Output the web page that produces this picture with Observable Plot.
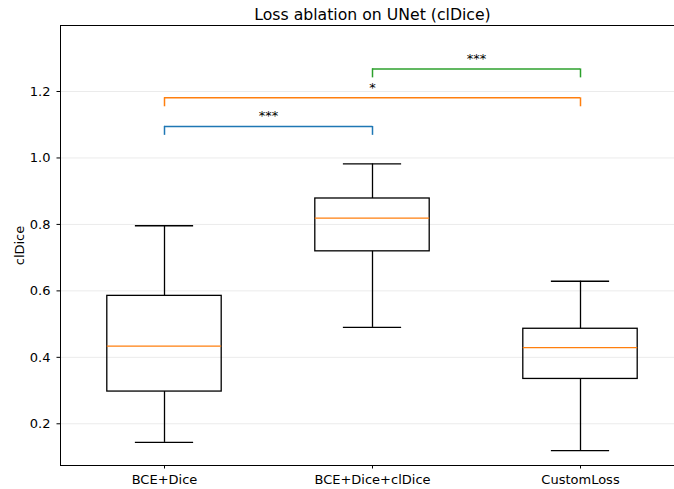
<!DOCTYPE html>
<html>
<head>
<meta charset="utf-8">
<script src="https://cdn.jsdelivr.net/npm/d3@7"></script>
<script src="https://cdn.jsdelivr.net/npm/@observablehq/plot@0.6"></script>
<style>
  html, body { margin: 0; padding: 0; background: #fff; }
  #chart svg { display: block; overflow: hidden; }
</style>
</head>
<body>
<div id="chart"></div>
<script>
// ---- data ----
const title = "Loss ablation on UNet (clDice)";
const yLabel = "clDice";
const categories = ["BCE+Dice", "BCE+Dice+clDice", "CustomLoss"];
const whiskerLow  = [0.144, 0.490, 0.119];
const q1          = [0.297, 0.719, 0.335];
const median      = [0.434, 0.819, 0.429];
const q3          = [0.585, 0.878, 0.486];
const whiskerHigh = [0.796, 0.982, 0.629];
const yTicks = [0.2, 0.4, 0.6, 0.8, 1.0, 1.2];

// significance brackets
const bracketFrom  = [0, 0, 1];
const bracketTo    = [1, 2, 2];
const bracketY     = [1.095, 1.181, 1.268];
const bracketLabel = ["***", "*", "***"];
const bracketColor = ["#1f77b4", "#ff7f0e", "#2ca02c"];

// ---- derived tables ----
const boxes = categories.map((c, i) => ({
  cat: c, pos: i + 1,
  lo: whiskerLow[i], q1: q1[i], med: median[i], q3: q3[i], hi: whiskerHigh[i]
}));
const brackets = bracketY.map((y, k) => ({
  x1: bracketFrom[k] + 1, x2: bracketTo[k] + 1, y, label: bracketLabel[k], color: bracketColor[k]
}));

const halfBox = 0.275, halfCap = 0.14, tickDrop = 0.027;
const yDomain = [0.0745, 1.3986];

const chart = Plot.plot({
  width: 674,
  height: 489,
  marginLeft: 60,
  marginRight: 0,
  marginTop: 25,
  marginBottom: 24,
  style: { fontFamily: "DejaVu Sans", fontSize: "13px", color: "#000", background: "#fff" },
  x: { type: "linear", domain: [0.5, 3.5], range: [60, 684] },
  y: { domain: yDomain },
  marks: [
    // grid
    Plot.gridY(yTicks, { stroke: "#ebebeb", strokeOpacity: 1, strokeWidth: 1 }),
    // spines
    Plot.ruleX([0.5], { stroke: "#000", strokeWidth: 1 }),
    Plot.ruleY([yDomain[0]], { stroke: "#000", strokeWidth: 1 }),
    Plot.ruleY([yDomain[1]], { stroke: "#000", strokeWidth: 1 }),
    // axes
    Plot.axisY(yTicks, {
      tickSize: 3.5, tickPadding: 6.5, tickFormat: d3.format(".1f"),
      fontSize: 13, label: yLabel, labelAnchor: "center", labelArrow: "none", labelOffset: 46
    }),
    Plot.axisX([1, 2, 3], {
      tickSize: 3.5, tickPadding: 6, tickFormat: d => categories[d - 1], fontSize: 13, label: null
    }),
    // whiskers
    Plot.ruleX(boxes, { x: "pos", y1: "q3", y2: "hi", stroke: "#000", strokeWidth: 1.3 }),
    Plot.ruleX(boxes, { x: "pos", y1: "lo", y2: "q1", stroke: "#000", strokeWidth: 1.3 }),
    // caps
    Plot.ruleY(boxes, { y: "hi", x1: d => d.pos - halfCap, x2: d => d.pos + halfCap, stroke: "#000", strokeWidth: 1.3 }),
    Plot.ruleY(boxes, { y: "lo", x1: d => d.pos - halfCap, x2: d => d.pos + halfCap, stroke: "#000", strokeWidth: 1.3 }),
    // boxes
    Plot.rect(boxes, { x1: d => d.pos - halfBox, x2: d => d.pos + halfBox, y1: "q1", y2: "q3", fill: "none", stroke: "#000", strokeWidth: 1.3 }),
    // medians
    Plot.ruleY(boxes, { y: "med", x1: d => d.pos - halfBox, x2: d => d.pos + halfBox, stroke: "#ff7f0e", strokeWidth: 1.3 }),
    // brackets
    Plot.ruleY(brackets, { y: "y", x1: "x1", x2: "x2", stroke: d => d.color, strokeWidth: 1.5 }),
    Plot.ruleX(brackets, { x: "x1", y1: d => d.y - tickDrop, y2: "y", stroke: d => d.color, strokeWidth: 1.5 }),
    Plot.ruleX(brackets, { x: "x2", y1: d => d.y - tickDrop, y2: "y", stroke: d => d.color, strokeWidth: 1.5 }),
    Plot.text(brackets, {
      x: d => (d.x1 + d.x2) / 2, y: "y", text: "label", dy: -6,
      lineAnchor: "bottom", fontSize: 13, fill: "#000"
    }),
    // title
    Plot.text([title], { x: 2, frameAnchor: "top", text: d => d, dy: -6, lineAnchor: "bottom", fontSize: 15.7, fill: "#000" })
  ]
});
document.getElementById("chart").appendChild(chart);
</script>
</body>
</html>
